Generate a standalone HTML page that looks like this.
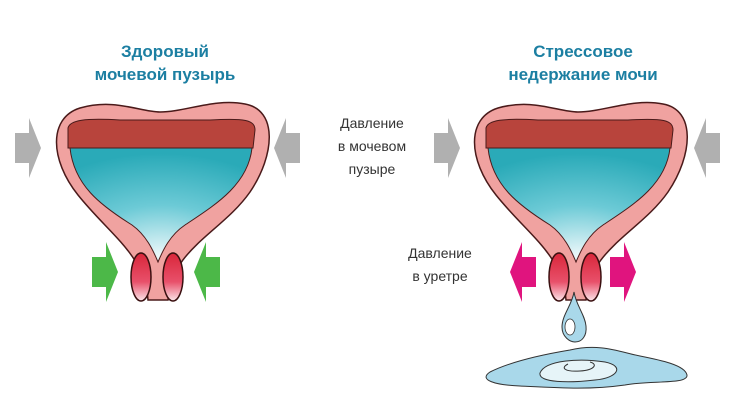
<!DOCTYPE html>
<html><head><meta charset="utf-8"><style>
body{margin:0;width:735px;height:414px;background:#fff;overflow:hidden}
svg{display:block}
text{font-family:"Liberation Sans",sans-serif}
</style></head><body>
<svg width="735" height="414" viewBox="0 0 735 414">
<defs>
<radialGradient id="w" cx="0.5" cy="0.95" r="0.9">
<stop offset="0" stop-color="#eef8fa"/><stop offset="0.5" stop-color="#6ccad6"/><stop offset="1" stop-color="#2aaab8"/>
</radialGradient>
<linearGradient id="s" x1="0" y1="0" x2="0" y2="1">
<stop offset="0" stop-color="#d9263a"/><stop offset="0.6" stop-color="#e8506a"/><stop offset="1" stop-color="#fbe6ea"/>
</linearGradient>
<g id="bl">
<path d="M148,300 C145,255 110,235 78,195 C50,160 48,118 80,108 C115,98 140,112 160,112 C185,112 215,98 245,104 C278,110 275,155 250,192 C222,232 170,250 168,300 Z" fill="#f0a2a0" stroke="#4a1a1a" stroke-width="1.5"/>
<path d="M68,128 C70,120 85,118 120,120 L210,120 C245,118 255,120 255,130 L253,148 L68,148 Z" fill="#b8443c" stroke="#4a1a1a" stroke-width="1"/>
<path d="M70,148 L252,148 C248,185 215,205 185,225 C170,235 163,250 158,262 C153,250 146,235 132,225 C100,205 74,185 70,148 Z" fill="url(#w)" stroke="#4a1a1a" stroke-width="1"/>
<ellipse cx="141" cy="277" rx="10" ry="24" fill="url(#s)" stroke="#3a1010" stroke-width="1.5"/>
<ellipse cx="173" cy="277" rx="10" ry="24" fill="url(#s)" stroke="#3a1010" stroke-width="1.5"/>
</g>
<path id="ga" d="M0,15 L14,15 L14,0 L26,30 L14,60 L14,45 L0,45 Z"/>
</defs>
<text x="165" y="57" font-size="17" font-weight="bold" fill="#1c7fa2" text-anchor="middle">Здоровый</text>
<text x="165" y="80" font-size="17" font-weight="bold" fill="#1c7fa2" text-anchor="middle">мочевой пузырь</text>
<text x="583" y="57" font-size="17" font-weight="bold" fill="#1c7fa2" text-anchor="middle">Стрессовое</text>
<text x="583" y="80" font-size="17" font-weight="bold" fill="#1c7fa2" text-anchor="middle">недержание мочи</text>
<g font-size="14" fill="#333" text-anchor="middle">
<text x="372" y="128">Давление</text><text x="372" y="151">в мочевом</text><text x="372" y="174">пузыре</text>
<text x="440" y="258">Давление</text><text x="440" y="281">в уретре</text>
</g>
<use href="#bl"/>
<use href="#bl" transform="translate(418,0)"/>
<g fill="#b0b0b0">
<use href="#ga" transform="translate(15,118)"/>
<use href="#ga" transform="translate(300,118) scale(-1,1)"/>
<use href="#ga" transform="translate(434,118)"/>
<use href="#ga" transform="translate(720,118) scale(-1,1)"/>
</g>
<g fill="#4cb848">
<use href="#ga" transform="translate(92,242)"/>
<use href="#ga" transform="translate(220,242) scale(-1,1)"/>
</g>
<g fill="#e0147e">
<use href="#ga" transform="translate(536,242) scale(-1,1)"/>
<use href="#ga" transform="translate(610,242)"/>
</g>
<path d="M574,292 C572,305 562,315 562,327 C562,337 570,342 575,342 C582,342 587,336 586,326 C585,315 576,305 574,292 Z" fill="#a9d8ea" stroke="#333" stroke-width="1"/>
<ellipse cx="570" cy="327" rx="5" ry="8" fill="#fff" stroke="#333" stroke-width="0.8"/>
<path d="M490,372 C510,362 540,355 570,350 C600,343 620,352 640,356 C660,360 685,365 687,375 C688,385 650,380 625,385 C590,390 560,388 520,386 C495,385 478,380 490,372 Z" fill="#a9d8ea" stroke="#333" stroke-width="1"/>
<path d="M540,373 C545,360 580,358 605,362 C625,366 618,378 595,380 C570,383 538,383 540,373 Z" fill="#e6f4f8" stroke="#333" stroke-width="1"/>
<path d="M568,364 C560,368 565,372 580,371 C595,370 598,364 590,362" fill="none" stroke="#333" stroke-width="1"/>
</svg>
</body></html>
